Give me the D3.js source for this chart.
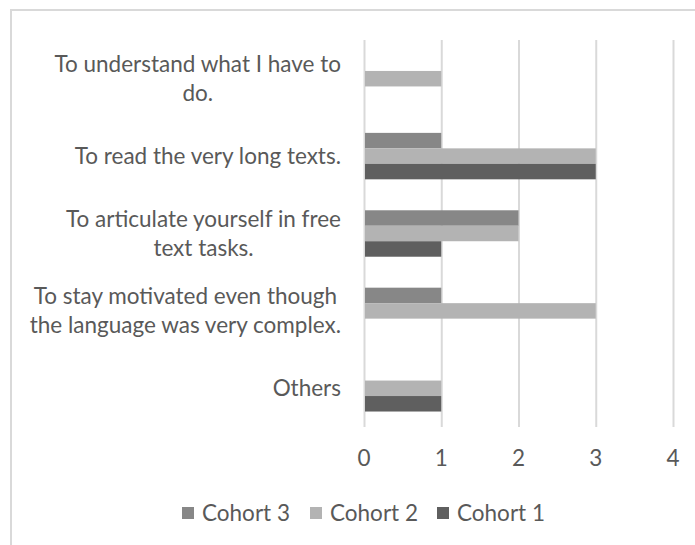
<!DOCTYPE html>
<html>
<head>
    <script src="https://d3js.org/d3.v7.min.js"></script>
    <style>
        body { margin: 0; background: #fff; }
        text { font-family: Lato, "Open Sans", sans-serif; fill: #595959; }
        .grid line { stroke: #d9d9d9; stroke-width: 2; }
        .grid .domain { display: none; }
    </style>
</head>
<body>
    <svg width="695" height="545"></svg>
    <script>
        const categories = [
            'To understand what I have to do.',
            'To read the very long texts.',
            'To articulate yourself in free text tasks.',
            'To stay motivated even though the language was very complex.',
            'Others'
        ];
        const labelLines = [
            ['To understand what I have to', 'do.'],
            ['To read the very long texts.'],
            ['To articulate yourself in free', 'text tasks.'],
            ['To stay motivated even though', 'the language was very complex.'],
            ['Others']
        ];
        const seriesNames = ['Cohort 3', 'Cohort 2', 'Cohort 1'];
        const cohort3 = [0, 1, 2, 1, 0];
        const cohort2 = [1, 3, 2, 3, 1];
        const cohort1 = [0, 3, 1, 0, 1];
        const xTicks = [0, 1, 2, 3, 4];
        const colors = ['#878787', '#b3b3b3', '#5f5f5f'];

        const values = [cohort3, cohort2, cohort1];
        const fontSize = 22.5;
        const svg = d3.select('svg');

        // chart frame (cropped at right and bottom)
        svg.append('rect')
            .attr('x', 11).attr('y', 10)
            .attr('width', 720).attr('height', 600)
            .attr('fill', '#fff')
            .attr('stroke', '#d9d9d9')
            .attr('stroke-width', 2);

        const plot = {left: 364, right: 673, top: 40, bottom: 427};

        const x = d3.scaleLinear().domain([0, 4]).range([plot.left, plot.right]);
        const y = d3.scaleBand().domain(categories).range([plot.top, plot.bottom])
            .paddingInner(0.4).paddingOuter(0.2);
        const ySub = d3.scaleBand().domain(seriesNames).range([0, y.bandwidth()]);

        svg.append('g')
            .attr('class', 'grid')
            .attr('transform', `translate(0,${plot.bottom})`)
            .call(d3.axisBottom(x).tickValues(xTicks).tickSize(-(plot.bottom - plot.top)).tickFormat(''));

        // tick labels
        svg.append('g').selectAll('text')
            .data(xTicks)
            .enter()
            .append('text')
            .attr('x', d => x(d))
            .attr('y', 458)
            .attr('dy', '0.35em')
            .attr('text-anchor', 'middle')
            .attr('font-size', fontSize)
            .text(d => d);

        // bars
        seriesNames.forEach((s, si) => {
            svg.append('g').selectAll('rect')
                .data(categories)
                .enter()
                .append('rect')
                .attr('x', x(0) + 1)
                .attr('y', d => y(d) + ySub(s))
                .attr('width', (d, i) => Math.max(0, x(values[si][i]) - x(0) - 1))
                .attr('height', ySub.bandwidth())
                .attr('fill', colors[si]);
        });

        // category labels, centred lines, right edge at 341
        const lineH = 29;
        categories.forEach((c, i) => {
            const g = svg.append('g');
            const lines = labelLines[i];
            const cy = y(c) + y.bandwidth() / 2;
            const texts = g.selectAll('text')
                .data(lines)
                .enter()
                .append('text')
                .attr('y', (d, j) => cy + (j - (lines.length - 1) / 2) * lineH)
                .attr('dy', '0.35em')
                .attr('text-anchor', 'middle')
                .attr('font-size', fontSize)
                .text(d => d);
            const maxW = d3.max(texts.nodes(), n => n.getComputedTextLength());
            texts.attr('x', 341 - maxW / 2);
        });

        // legend
        const legendX = [182, 310, 437];
        const legend = svg.append('g');
        seriesNames.forEach((s, i) => {
            legend.append('rect')
                .attr('x', legendX[i]).attr('y', 507)
                .attr('width', 12).attr('height', 12)
                .attr('fill', colors[i]);
            legend.append('text')
                .attr('x', legendX[i] + 20)
                .attr('y', 513)
                .attr('dy', '0.35em')
                .attr('font-size', fontSize)
                .text(s);
        });
    </script>
</body>
</html>
